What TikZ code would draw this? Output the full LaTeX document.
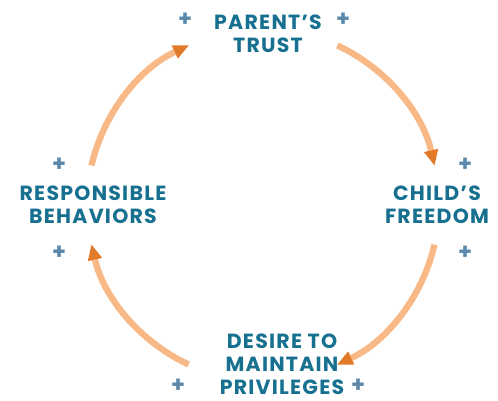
\documentclass[tikz,border=0pt]{standalone}
\usepackage{fontspec}
\setmainfont{Poppins}[LetterSpace=6]
\usepackage{tikz}
\usetikzlibrary{arrows.meta}

\definecolor{labelblue}{HTML}{17708F}
\definecolor{plusblue}{HTML}{5B88AA}
\definecolor{looporange}{HTML}{F8B987}
\definecolor{tiporange}{HTML}{E27A2C}

\begin{document}
\begin{tikzpicture}[x=0.03cm, y=0.03cm,
        label/.style={text=labelblue, font=\bfseries\fontsize{17.5}{19.8}\selectfont, align=center, inner sep=0pt},
        plus/.style={text=plusblue, font=\bfseries\fontsize{19}{19}\selectfont, inner sep=0pt},
        loop/.style={draw=looporange, line width=1.9mm, -{Triangle[length=4.6mm, width=4.4mm, color=tiporange, fill=tiporange, line width=0pt]}}]
        \useasboundingbox (0,0) rectangle (498,401);
        \coordinate (c) at (263,196);

        \node[label] (trust) at (268,367) {PARENT’S\\TRUST};
        \node[label] (freedom) at (437,196) {CHILD’S\\FREEDOM};
        \node[label] (desire) at (282,37) {DESIRE TO\\MAINTAIN\\PRIVILEGES};
        \node[label] (behave) at (93,196) {RESPONSIBLE\\BEHAVIORS};

        \node[plus] (p1) at (185,381) {+};
        \node[plus] (p2) at (343,381) {+};
        \node[plus] (p3) at (465,236) {+};
        \node[plus] (p4) at (465,148) {+};
        \node[plus] (p5) at (358,15) {+};
        \node[plus] (p6) at (178,15) {+};
        \node[plus] (p7) at (59,148) {+};
        \node[plus] (p8) at (59,236) {+};

        % the loop
        \draw[loop] (c) ++(167:176) arc[start angle=167, end angle=115, radius=176];
        \draw[loop] (c) ++(65:176) arc[start angle=65, end angle=13, radius=176];
        \draw[loop] (c) ++(-13:176) arc[start angle=-13, end angle=-65, radius=176];
        \draw[loop] (c) ++(-115:176) arc[start angle=-115, end angle=-167, radius=176];
    \end{tikzpicture}
\end{document}
